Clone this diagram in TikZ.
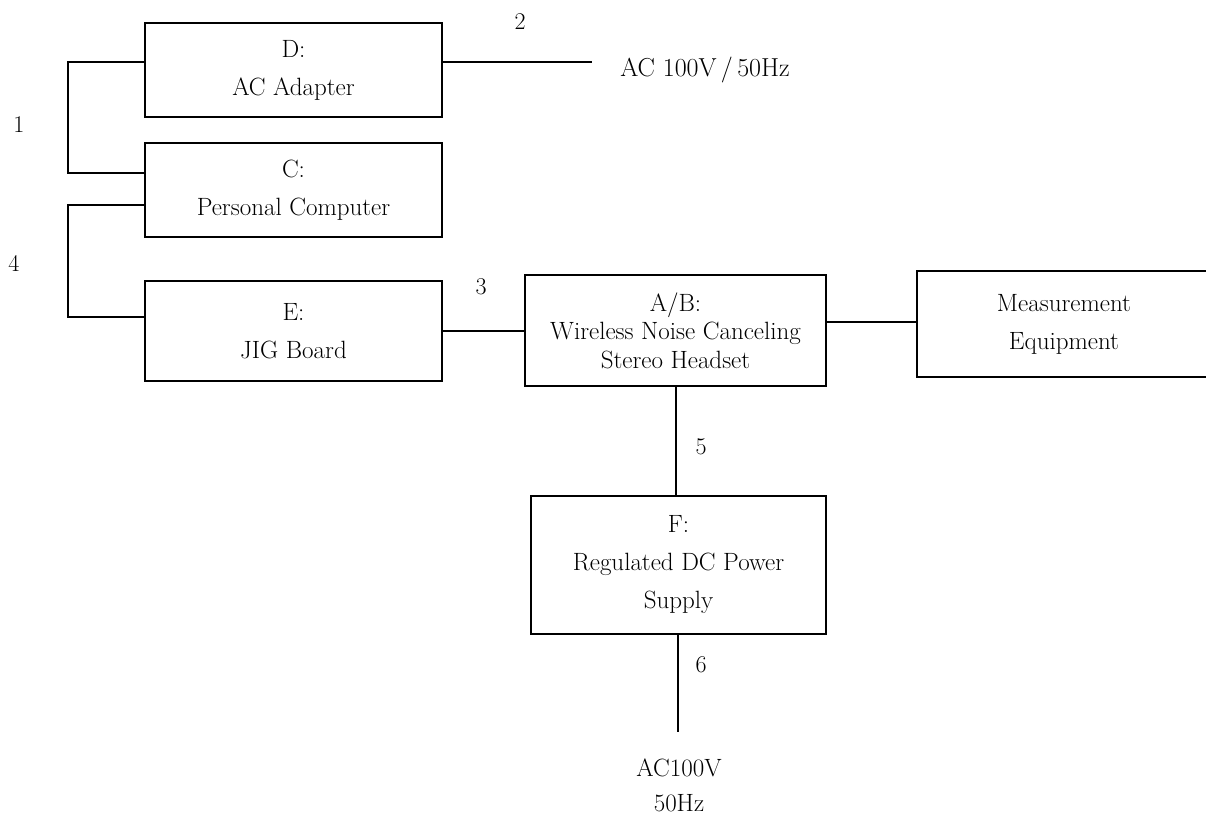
\documentclass[tikz,border=0pt]{standalone}
\begin{document}
\begin{tikzpicture}[x=1pt,y=-1pt,
  every node/.style={font=\fontsize{25}{38}\selectfont},
  blk/.style={draw, line width=1.5pt, rectangle, align=center, inner sep=0pt},
  wire/.style={line width=1.5pt},
  tag/.style={font=\fontsize{24}{28}\selectfont, inner sep=0pt}]
\useasboundingbox (0,0) rectangle (1206,816);
\clip (0,0) rectangle (1206,816);

% blocks
\node[blk, minimum width=297pt, minimum height=94pt]  (D)  at (293.5,70)  {D:\\AC Adapter};
\node[blk, minimum width=297pt, minimum height=94pt]  (C)  at (293.5,190) {C:\\Personal Computer};
\node[blk, minimum width=297pt, minimum height=100pt] (E)  at (293.5,331) {E:\\JIG Board};
\node[blk, minimum width=301pt, minimum height=111pt, font=\fontsize{25}{28.5}\selectfont]
  (AB) at (675.5,330.5) {A/B:\\Wireless Noise Canceling\\Stereo Headset};
\node[blk, minimum width=294pt, minimum height=106pt] (M)  at (1064,324)  {Measurement\\Equipment};
\node[blk, minimum width=295pt, minimum height=138pt] (F)  at (678.5,565) {F:\\Regulated DC Power\\Supply};

% power inputs
\node[font=\fontsize{26}{30}\selectfont] (acin) at (705,70) {AC 100V\,/\,50Hz};
\node[anchor=base, inner sep=0pt] (acf1) at (679,776) {AC100V};
\node[anchor=base, inner sep=0pt] (acf2) at (679,811) {50Hz};

% helper points
\coordinate (ac)  at (592,62);
\coordinate (b1a) at (68,62);
\coordinate (b1b) at (68,173);
\coordinate (b4a) at (68,205);
\coordinate (b4b) at (68,317);
\coordinate (m)   at (870,322);
\coordinate (v5)  at (676,0);
\coordinate (ac2) at (678,732);

% connectors
\draw[wire] (D.west |- b1a) -- (b1a) -- (b1b) -- (C.west |- b1b);
\draw[wire] (C.west |- b4a) -- (b4a) -- (b4b) -- (E.west |- b4b);
\draw[wire] (D.east |- ac) -- (ac);
\draw[wire] (E.east) -- (E.east -| AB.west);
\draw[wire] (AB.east |- m) -- (M.west |- m);
\draw[wire] (AB.south -| v5) -- (F.north -| v5);
\draw[wire] (F.south -| ac2) -- (ac2);

% connector numbers
\node[tag] (n1) at (19,125)  {1};
\node[tag] (n2) at (520,22)  {2};
\node[tag] (n3) at (481,287) {3};
\node[tag] (n4) at (14,263)  {4};
\node[tag] (n5) at (701,447) {5};
\node[tag] (n6) at (701,665) {6};
\end{tikzpicture}
\end{document}
